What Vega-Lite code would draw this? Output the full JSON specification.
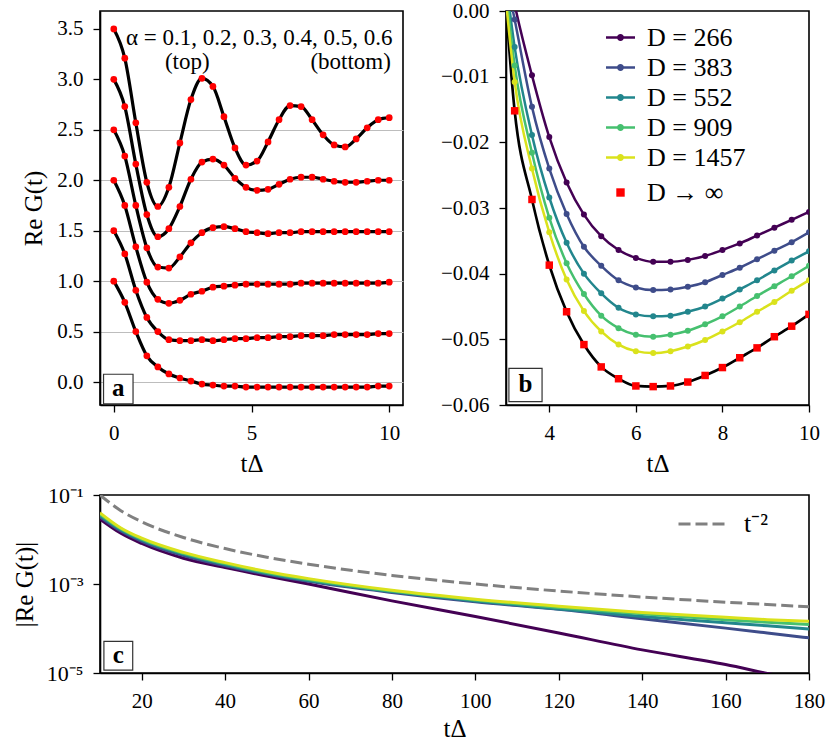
{
"$schema": "https://vega.github.io/schema/vega-lite/v6.json",
"background": "white",
"padding": {"left": 11, "top": -1, "right": 5, "bottom": 0},
"config": {
  "font": "Liberation Serif",
  "view": {"stroke": "black", "strokeWidth": 1.6},
  "axis": {"domainColor": "black", "domainWidth": 1.6, "tickColor": "black", "tickWidth": 1.3, "tickSize": 7, "labelFont": "Liberation Serif", "labelFontSize": 21, "labelColor": "black", "labelPadding": 10, "titleFont": "Liberation Serif", "titleFontSize": 25, "titleFontWeight": "normal", "titleColor": "black", "grid": false, "labelFlush": false, "labelOverlap": false},
  "legend": {"labelFont": "Liberation Serif", "labelColor": "black", "labelFontSize": 26, "padding": 0, "titlePadding": 0},
  "text": {"font": "Liberation Serif"}
},
"spacing": 6,
"resolve": {"scale": {"color": "independent", "strokeDash": "independent"}, "legend": {"color": "independent", "strokeDash": "independent"}},
"vconcat": [
{
  "bounds": "flush",
  "spacing": 103,
  "resolve": {"scale": {"color": "independent"}, "legend": {"color": "independent"}},
  "hconcat": [
  {
    "width": 303, "height": 394,
    "data": {"values": [
      {"t":0,"c1":3.50,"c2":3.00,"c3":2.50,"c4":2.00,"c5":1.50,"c6":1.00},
      {"t":0.4,"c1":3.21,"c2":2.73,"c3":2.24,"c4":1.75,"c5":1.27,"c6":0.79},
      {"t":0.8,"c1":2.57,"c2":2.16,"c3":1.75,"c4":1.34,"c5":0.91,"c6":0.50},
      {"t":1.2,"c1":1.98,"c2":1.66,"c3":1.33,"c4":0.99,"c5":0.64,"c6":0.26},
      {"t":1.6,"c1":1.74,"c2":1.44,"c3":1.14,"c4":0.82,"c5":0.50,"c6":0.15},
      {"t":2.0,"c1":1.93,"c2":1.52,"c3":1.13,"c4":0.78,"c5":0.42,"c6":0.08},
      {"t":2.4,"c1":2.37,"c2":1.74,"c3":1.24,"c4":0.81,"c5":0.41,"c6":0.04},
      {"t":2.8,"c1":2.80,"c2":2.01,"c3":1.38,"c4":0.87,"c5":0.41,"c6":0.01},
      {"t":3.2,"c1":3.01,"c2":2.18,"c3":1.48,"c4":0.90,"c5":0.42,"c6":-0.02},
      {"t":3.6,"c1":2.93,"c2":2.21,"c3":1.53,"c4":0.94,"c5":0.41,"c6":-0.03},
      {"t":4.0,"c1":2.63,"c2":2.15,"c3":1.54,"c4":0.95,"c5":0.42,"c6":-0.04},
      {"t":4.4,"c1":2.32,"c2":2.02,"c3":1.52,"c4":0.96,"c5":0.43,"c6":-0.04},
      {"t":4.8,"c1":2.15,"c2":1.93,"c3":1.49,"c4":0.97,"c5":0.43,"c6":-0.05},
      {"t":5.2,"c1":2.19,"c2":1.90,"c3":1.48,"c4":0.97,"c5":0.44,"c6":-0.05},
      {"t":5.6,"c1":2.38,"c2":1.91,"c3":1.47,"c4":0.97,"c5":0.44,"c6":-0.05},
      {"t":6.0,"c1":2.60,"c2":1.96,"c3":1.48,"c4":0.97,"c5":0.45,"c6":-0.05},
      {"t":6.4,"c1":2.74,"c2":2.01,"c3":1.48,"c4":0.97,"c5":0.45,"c6":-0.05},
      {"t":6.8,"c1":2.73,"c2":2.03,"c3":1.49,"c4":0.98,"c5":0.46,"c6":-0.05},
      {"t":7.2,"c1":2.60,"c2":2.03,"c3":1.49,"c4":0.98,"c5":0.46,"c6":-0.05},
      {"t":7.6,"c1":2.45,"c2":2.01,"c3":1.49,"c4":0.98,"c5":0.46,"c6":-0.05},
      {"t":8.0,"c1":2.35,"c2":1.99,"c3":1.49,"c4":0.98,"c5":0.47,"c6":-0.05},
      {"t":8.4,"c1":2.33,"c2":1.98,"c3":1.49,"c4":0.98,"c5":0.47,"c6":-0.05},
      {"t":8.8,"c1":2.41,"c2":1.98,"c3":1.49,"c4":0.98,"c5":0.47,"c6":-0.05},
      {"t":9.2,"c1":2.52,"c2":1.99,"c3":1.49,"c4":0.98,"c5":0.47,"c6":-0.05},
      {"t":9.6,"c1":2.60,"c2":2.00,"c3":1.49,"c4":0.98,"c5":0.48,"c6":-0.04},
      {"t":10,"c1":2.62,"c2":2.00,"c3":1.49,"c4":0.99,"c5":0.48,"c6":-0.04}
    ]},
    "layer": [
      {
        "transform": [{"fold": ["c1","c2","c3","c4","c5","c6"], "as": ["c","g"]}],
        "mark": {"type": "line", "color": "black", "strokeWidth": 3.2, "interpolate": "monotone"},
        "encoding": {
          "x": {"field": "t", "type": "quantitative", "scale": {"domain": [-0.5, 10.5], "nice": false, "zero": false},
                "axis": {"values": [0,5,10], "title": "tΔ", "titlePadding": 8}},
          "y": {"field": "g", "type": "quantitative", "scale": {"domain": [-0.2275, 3.6775], "nice": false, "zero": false},
                "axis": {"values": [0,0.5,1,1.5,2,2.5,3,3.5], "format": ".1f", "title": "Re G(t)", "titlePadding": 10,
                         "grid": true, "gridColor": "#bdbdbd", "gridWidth": 1.2,
                         "gridOpacity": {"condition": {"test": "datum.value > 2.6", "value": 0}, "value": 1}}},
          "detail": {"field": "c"}
        }
      },
      {
        "transform": [{"fold": ["c1","c2","c3","c4","c5","c6"], "as": ["c","g"]}],
        "mark": {"type": "circle", "color": "#ff0000", "size": 45, "opacity": 1},
        "encoding": {
          "x": {"field": "t", "type": "quantitative"},
          "y": {"field": "g", "type": "quantitative"}
        }
      },
      {
        "data": {"values": [
          {"t": 5.28, "g": 3.41, "txt": "α = 0.1, 0.2, 0.3, 0.4, 0.5, 0.6"},
          {"t": 2.67, "g": 3.17, "txt": "(top)"},
          {"t": 8.60, "g": 3.17, "txt": "(bottom)"}
        ]},
        "mark": {"type": "text", "fontSize": 23, "font": "Liberation Serif", "color": "black", "align": "center", "baseline": "middle"},
        "encoding": {
          "x": {"field": "t", "type": "quantitative"},
          "y": {"field": "g", "type": "quantitative"},
          "text": {"field": "txt"}
        }
      },
      {
        "data": {"values": [{"t": 0.164, "g": -0.069, "txt": "a"}]},
        "mark": {"type": "square", "size": 870, "filled": true, "fill": "white", "stroke": "#333333", "strokeWidth": 1.2, "opacity": 1},
        "encoding": {
          "x": {"field": "t", "type": "quantitative"},
          "y": {"field": "g", "type": "quantitative"}
        }
      },
      {
        "data": {"values": [{"t": 0.164, "g": -0.069, "txt": "a"}]},
        "mark": {"type": "text", "fontSize": 25, "fontWeight": "bold", "font": "Liberation Serif", "color": "black", "align": "center", "baseline": "middle", "dy": -1},
        "encoding": {
          "x": {"field": "t", "type": "quantitative"},
          "y": {"field": "g", "type": "quantitative"},
          "text": {"field": "txt"}
        }
      }
    ]
  },
  {
    "width": 303, "height": 394,
    "resolve": {"scale": {"color": "independent"}, "legend": {"color": "independent"}},
    "data": {"values": [
      {"t":2.8,"D = 266":0.015,"D = 383":0.0117,"D = 552":0.0165,"D = 909":0.0172,"D = 1457":0.0162,"D → ∞":0.0206},
      {"t":3.2,"D = 266":0.001,"D = 383":-0.0013,"D = 552":-0.0055,"D = 909":-0.0083,"D = 1457":-0.0108,"D → ∞":-0.0152},
      {"t":3.6,"D = 266":-0.0098,"D = 383":-0.0146,"D = 552":-0.0189,"D = 909":-0.0216,"D = 1457":-0.0240,"D → ∞":-0.0287},
      {"t":4.0,"D = 266":-0.0192,"D = 383":-0.0240,"D = 552":-0.0284,"D = 909":-0.0315,"D = 1457":-0.0337,"D → ∞":-0.0387},
      {"t":4.4,"D = 266":-0.0261,"D = 383":-0.0309,"D = 552":-0.0353,"D = 909":-0.0384,"D = 1457":-0.0409,"D → ∞":-0.0458},
      {"t":4.8,"D = 266":-0.0310,"D = 383":-0.0359,"D = 552":-0.0400,"D = 909":-0.0431,"D = 1457":-0.0457,"D → ∞":-0.0508},
      {"t":5.2,"D = 266":-0.0343,"D = 383":-0.0388,"D = 552":-0.0430,"D = 909":-0.0464,"D = 1457":-0.0488,"D → ∞":-0.0542},
      {"t":5.6,"D = 266":-0.0364,"D = 383":-0.0410,"D = 552":-0.0452,"D = 909":-0.0483,"D = 1457":-0.0508,"D → ∞":-0.0560},
      {"t":6.0,"D = 266":-0.0376,"D = 383":-0.0421,"D = 552":-0.0462,"D = 909":-0.0493,"D = 1457":-0.0518,"D → ∞":-0.0571},
      {"t":6.4,"D = 266":-0.0382,"D = 383":-0.0425,"D = 552":-0.0465,"D = 909":-0.0496,"D = 1457":-0.0521,"D → ∞":-0.0572},
      {"t":6.8,"D = 266":-0.0382,"D = 383":-0.0424,"D = 552":-0.0464,"D = 909":-0.0493,"D = 1457":-0.0518,"D → ∞":-0.0571},
      {"t":7.2,"D = 266":-0.0379,"D = 383":-0.0420,"D = 552":-0.0458,"D = 909":-0.0487,"D = 1457":-0.0511,"D → ∞":-0.0565},
      {"t":7.6,"D = 266":-0.0373,"D = 383":-0.0413,"D = 552":-0.0450,"D = 909":-0.0477,"D = 1457":-0.0501,"D → ∞":-0.0555},
      {"t":8.0,"D = 266":-0.0364,"D = 383":-0.0402,"D = 552":-0.0438,"D = 909":-0.0465,"D = 1457":-0.0488,"D → ∞":-0.0543},
      {"t":8.4,"D = 266":-0.0354,"D = 383":-0.0391,"D = 552":-0.0424,"D = 909":-0.0450,"D = 1457":-0.0474,"D → ∞":-0.0528},
      {"t":8.8,"D = 266":-0.0342,"D = 383":-0.0378,"D = 552":-0.0410,"D = 909":-0.0434,"D = 1457":-0.0458,"D → ∞":-0.0513},
      {"t":9.2,"D = 266":-0.0330,"D = 383":-0.0365,"D = 552":-0.0395,"D = 909":-0.0419,"D = 1457":-0.0443,"D → ∞":-0.0496},
      {"t":9.6,"D = 266":-0.0318,"D = 383":-0.0352,"D = 552":-0.0380,"D = 909":-0.0404,"D = 1457":-0.0426,"D → ∞":-0.0480},
      {"t":10,"D = 266":-0.0306,"D = 383":-0.0337,"D = 552":-0.0366,"D = 909":-0.0388,"D = 1457":-0.0410,"D → ∞":-0.0462}
    ]},
    "layer": [
      {
        "transform": [{"fold": ["D → ∞"], "as": ["s","v"]}],
        "mark": {"type": "line", "color": "black", "strokeWidth": 2.7, "interpolate": "monotone", "clip": true},
        "encoding": {
          "x": {"field": "t", "type": "quantitative", "scale": {"domain": [3, 10], "nice": false, "zero": false},
                "axis": {"values": [4,6,8,10], "title": "tΔ", "titlePadding": 8}},
          "y": {"field": "v", "type": "quantitative", "scale": {"domain": [-0.06, 0], "nice": false, "zero": false},
                "axis": {"values": [-0.06,-0.05,-0.04,-0.03,-0.02,-0.01,0], "format": ".2f", "title": null}}
        }
      },
      {
        "transform": [{"fold": ["D = 266","D = 383","D = 552","D = 909","D = 1457"], "as": ["s","v"]}],
        "mark": {"type": "line", "strokeWidth": 2.5, "interpolate": "monotone", "clip": true},
        "encoding": {
          "x": {"field": "t", "type": "quantitative"},
          "y": {"field": "v", "type": "quantitative"},
          "color": {"field": "s", "type": "nominal", "legend": null,
                    "scale": {"domain": ["D = 266","D = 383","D = 552","D = 909","D = 1457"], "range": ["#440154","#3e4c8a","#22868d","#46c06f","#dae21c"]}}
        }
      },
      {
        "transform": [{"fold": ["D = 266","D = 383","D = 552","D = 909","D = 1457"], "as": ["s","v"]}],
        "mark": {"type": "circle", "size": 36, "opacity": 1, "clip": true},
        "encoding": {
          "x": {"field": "t", "type": "quantitative"},
          "y": {"field": "v", "type": "quantitative"},
          "color": {"field": "s", "type": "nominal",
                    "scale": {"domain": ["D = 266","D = 383","D = 552","D = 909","D = 1457"], "range": ["#440154","#3e4c8a","#22868d","#46c06f","#dae21c"]},
                    "legend": {"title": null, "orient": "none", "direction": "vertical", "legendX": 100, "legendY": 12,
                               "symbolType": "M-1,-0.09H1V0.09H-1Z M0.24,0A0.24,0.24,0,1,1,-0.24,0A0.24,0.24,0,1,1,0.24,0Z",
                               "symbolSize": 841, "symbolStrokeWidth": 0, "symbolOpacity": 1, "labelOffset": 12, "rowPadding": 2,
                               "labelFontSize": 26, "labelFont": "Liberation Serif", "labelColor": "black"}}
        }
      },
      {
        "transform": [{"fold": ["D → ∞"], "as": ["s","v"]}, {"filter": "datum.t > 3"}],
        "mark": {"type": "square", "size": 56, "opacity": 1, "clip": true},
        "encoding": {
          "x": {"field": "t", "type": "quantitative"},
          "y": {"field": "v", "type": "quantitative"},
          "color": {"field": "s", "type": "nominal",
                    "scale": {"domain": ["D → ∞"], "range": ["#ff0000"]},
                    "legend": {"title": null, "orient": "none", "direction": "vertical", "legendX": 100, "legendY": 167,
                               "symbolType": "M-0.29,-0.29H0.29V0.29H-0.29Z",
                               "symbolSize": 841, "symbolStrokeWidth": 0, "symbolOpacity": 1, "labelOffset": 12,
                               "labelFontSize": 26, "labelFont": "Liberation Serif", "labelColor": "black"}}
        }
      },
      {
        "data": {"values": [{"t": 3.45, "v": -0.05695, "txt": "b"}]},
        "mark": {"type": "square", "size": 1100, "filled": true, "fill": "white", "stroke": "#333333", "strokeWidth": 1.2, "opacity": 1},
        "encoding": {
          "x": {"field": "t", "type": "quantitative"},
          "y": {"field": "v", "type": "quantitative"}
        }
      },
      {
        "data": {"values": [{"t": 3.45, "v": -0.05695, "txt": "b"}]},
        "mark": {"type": "text", "fontSize": 25, "fontWeight": "bold", "font": "Liberation Serif", "color": "black", "align": "center", "baseline": "middle", "dy": -1},
        "encoding": {
          "x": {"field": "t", "type": "quantitative"},
          "y": {"field": "v", "type": "quantitative"},
          "text": {"field": "txt"}
        }
      }
    ]
  }
  ]
},
{
  "width": 709, "height": 178,
  "data": {"values": [
    {"t":10,"D = 266":0.0288,"D = 383":0.0324,"D = 552":0.0347,"D = 909":0.0372,"D = 1457":0.0398,"t⁻²":0.1},
    {"t":15,"D = 266":0.0138,"D = 383":0.0155,"D = 552":0.0166,"D = 909":0.0174,"D = 1457":0.0182,"t⁻²":0.0444},
    {"t":20,"D = 266":0.00813,"D = 383":0.00912,"D = 552":0.00977,"D = 909":0.0102,"D = 1457":0.0107,"t⁻²":0.025},
    {"t":30,"D = 266":0.0038,"D = 383":0.00437,"D = 552":0.00468,"D = 909":0.0049,"D = 1457":0.00513,"t⁻²":0.0111},
    {"t":40,"D = 266":0.00234,"D = 383":0.00257,"D = 552":0.00275,"D = 909":0.00288,"D = 1457":0.00302,"t⁻²":0.00625},
    {"t":50,"D = 266":0.00151,"D = 383":0.00166,"D = 552":0.00174,"D = 909":0.00182,"D = 1457":0.00191,"t⁻²":0.004},
    {"t":60,"D = 266":0.001,"D = 383":0.00115,"D = 552":0.0012,"D = 909":0.00126,"D = 1457":0.00132,"t⁻²":0.00278},
    {"t":80,"D = 266":0.000417,"D = 383":0.000646,"D = 552":0.000676,"D = 909":0.000692,"D = 1457":0.000724,"t⁻²":0.00156},
    {"t":100,"D = 266":0.000186,"D = 383":0.000398,"D = 552":0.000417,"D = 909":0.000437,"D = 1457":0.000457,"t⁻²":0.001},
    {"t":120,"D = 266":0.0000794,"D = 383":0.000269,"D = 552":0.000275,"D = 909":0.000295,"D = 1457":0.000316,"t⁻²":0.000694},
    {"t":140,"D = 266":0.0000331,"D = 383":0.000166,"D = 552":0.000186,"D = 909":0.000214,"D = 1457":0.000229,"t⁻²":0.00051},
    {"t":160,"D = 266":0.0000155,"D = 383":0.000102,"D = 552":0.000135,"D = 909":0.000158,"D = 1457":0.000178,"t⁻²":0.000391},
    {"t":170,"D = 266":0.0000098,"D = 383":0.0000794,"D = 552":0.000115,"D = 909":0.000138,"D = 1457":0.000158,"t⁻²":0.000346},
    {"t":180,"D = 266":0.0000063,"D = 383":0.0000617,"D = 552":0.0000977,"D = 909":0.000123,"D = 1457":0.000145,"t⁻²":0.000309}
  ]},
  "layer": [
    {
      "transform": [{"fold": ["D = 266","D = 383","D = 552","D = 909","D = 1457"], "as": ["s","v"]}],
      "mark": {"type": "line", "strokeWidth": 3, "interpolate": "monotone", "clip": true},
      "encoding": {
        "x": {"field": "t", "type": "quantitative", "scale": {"domain": [10, 180], "nice": false, "zero": false},
              "axis": {"values": [20,40,60,80,100,120,140,160,180], "title": "tΔ", "titlePadding": 5}},
        "y": {"field": "v", "type": "quantitative", "scale": {"type": "log", "domain": [0.00001, 0.1], "nice": false},
              "axis": {"values": [0.00001, 0.001, 0.1], "title": "|Re G(t)|", "titlePadding": 9, "labelFontSize": 22,
                       "labelExpr": "datum.value < 0.00005 ? '10⁻⁵' : (datum.value < 0.005 ? '10⁻³' : '10⁻¹')"}},
        "color": {"field": "s", "type": "nominal", "legend": null,
                  "scale": {"domain": ["D = 266","D = 383","D = 552","D = 909","D = 1457"], "range": ["#440154","#3e4c8a","#22868d","#46c06f","#dae21c"]}}
      }
    },
    {
      "transform": [{"fold": ["t⁻²"], "as": ["s","v"]}],
      "mark": {"type": "line", "strokeWidth": 3, "color": "#808080", "interpolate": "monotone", "clip": true},
      "encoding": {
        "x": {"field": "t", "type": "quantitative"},
        "y": {"field": "v", "type": "quantitative"},
        "strokeDash": {"field": "s", "type": "nominal",
                       "scale": {"domain": ["t⁻²"], "range": [[12, 5]]},
                       "legend": {"title": null, "orient": "none", "legendX": 577, "legendY": 2,
                                  "symbolType": "stroke", "symbolSize": 2601, "symbolStrokeWidth": 3, "symbolStrokeColor": "#808080",
                                  "labelOffset": 13, "labelFontSize": 26, "labelFont": "Liberation Serif", "labelColor": "black"}}
      }
    },
    {
      "data": {"values": [{"t": 14.39, "v": 0.0000245, "txt": "c"}]},
      "mark": {"type": "square", "size": 830, "filled": true, "fill": "white", "stroke": "#333333", "strokeWidth": 1.2, "opacity": 1},
      "encoding": {
        "x": {"field": "t", "type": "quantitative"},
        "y": {"field": "v", "type": "quantitative"}
      }
    },
    {
      "data": {"values": [{"t": 14.39, "v": 0.0000245, "txt": "c"}]},
      "mark": {"type": "text", "fontSize": 25, "fontWeight": "bold", "font": "Liberation Serif", "color": "black", "align": "center", "baseline": "middle", "dy": -1},
      "encoding": {
        "x": {"field": "t", "type": "quantitative"},
        "y": {"field": "v", "type": "quantitative"},
        "text": {"field": "txt"}
      }
    }
  ]
}
]
}
